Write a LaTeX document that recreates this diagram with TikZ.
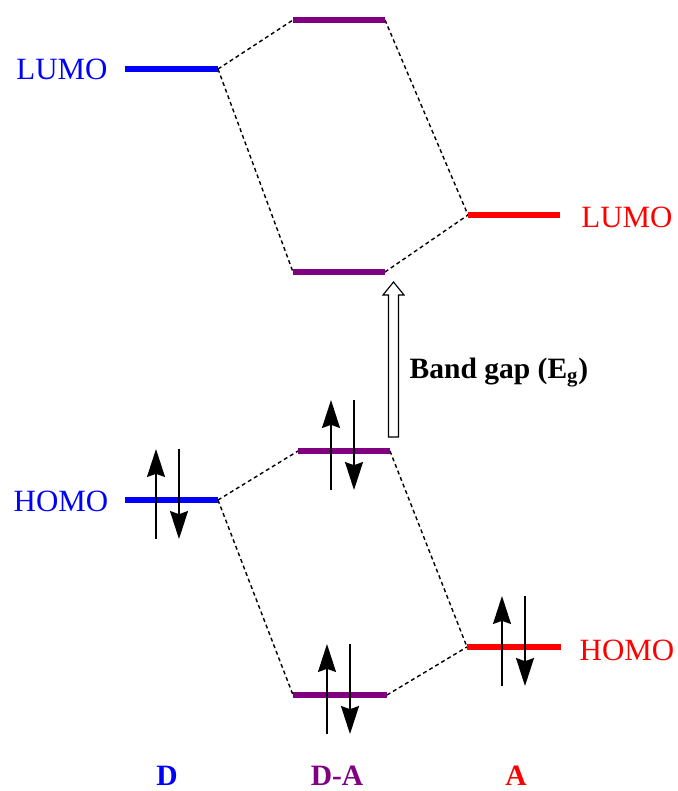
\documentclass[tikz,border=0pt]{standalone}
\usepackage{fontspec}
\setmainfont{Liberation Serif}
\usetikzlibrary{arrows.meta}

\definecolor{dapurple}{RGB}{128,0,128}

\tikzset{
  level/.style={line width=4.3pt},
  mix/.style={dash pattern=on 2.8pt off 2.2pt, line width=1pt},
  spin/.style={line width=1.1pt, -{Stealth[length=0.7cm, width=0.45cm, inset=0.08cm]}},
  lbl/.style={font=\fontsize{22}{26}\selectfont, inner sep=1pt},
  blbl/.style={font=\fontsize{21}{25}\selectfont\bfseries, inner sep=1pt}
}

\begin{document}
\begin{tikzpicture}[x=0.025cm, y=-0.025cm]
 \useasboundingbox (0,0) rectangle (678,791);

 % level end points
 \coordinate (dLu1) at (125,69);  \coordinate (dLu2) at (218,69);
 \coordinate (dHo1) at (125,500); \coordinate (dHo2) at (218,500);
 \coordinate (daT1) at (293,20);  \coordinate (daT2) at (385,20);
 \coordinate (daL1) at (293,272); \coordinate (daL2) at (385,272);
 \coordinate (daH1) at (298,451); \coordinate (daH2) at (390,451);
 \coordinate (daB1) at (293,695); \coordinate (daB2) at (387,695);
 \coordinate (aLu1) at (468,215); \coordinate (aLu2) at (560,215);
 \coordinate (aHo1) at (467,647); \coordinate (aHo2) at (561,647);

 % mixing lines
 \draw[mix] (dLu2) -- (daT1);
 \draw[mix] (dLu2) -- (daL1);
 \draw[mix] (daT2) -- (aLu1);
 \draw[mix] (daL2) -- (aLu1);
 \draw[mix] (dHo2) -- (daH1);
 \draw[mix] (dHo2) -- (daB1);
 \draw[mix] (daH2) -- (aHo1);
 \draw[mix] (daB2) -- (aHo1);

 % orbital levels
 \draw[level, blue] (dLu1) -- (dLu2);
 \draw[level, blue] (dHo1) -- (dHo2);
 \draw[level, dapurple] (daT1) -- (daT2);
 \draw[level, dapurple] (daL1) -- (daL2);
 \draw[level, dapurple] (daH1) -- (daH2);
 \draw[level, dapurple] (daB1) -- (daB2);
 \draw[level, red] (aLu1) -- (aLu2);
 \draw[level, red] (aHo1) -- (aHo2);

 % paired electrons
 \foreach \sx/\sy in {156/500, 331/451, 327/695, 502/647} {
   \draw[spin] (\sx,\sy+39) -- (\sx,\sy-51);
   \draw[spin] (\sx+23,\sy-51) -- (\sx+23,\sy+39);
 }

 % band gap arrow
 \draw[line width=0.8pt, fill=white] (388.5,437) -- (388.5,295) -- (383,295) -- (393.5,282)
   -- (404,295) -- (398.5,295) -- (398.5,437) -- cycle;
 \node[blbl, anchor=base west] (gap) at (408,378) {Band gap (E\textsubscript{g})};

 \node[lbl, blue] (dlumo) at (62,69) {LUMO};
 \node[lbl, blue] (dhomo) at (61,501) {HOMO};
 \node[lbl, red] (alumo) at (627,217) {LUMO};
 \node[lbl, red] (ahomo) at (627,650) {HOMO};

 \node[blbl, blue] (d) at (167,776) {D};
 \node[blbl, dapurple] (da) at (337,776) {D-A};
 \node[blbl, red] (a) at (516,776) {A};
\end{tikzpicture}
\end{document}
